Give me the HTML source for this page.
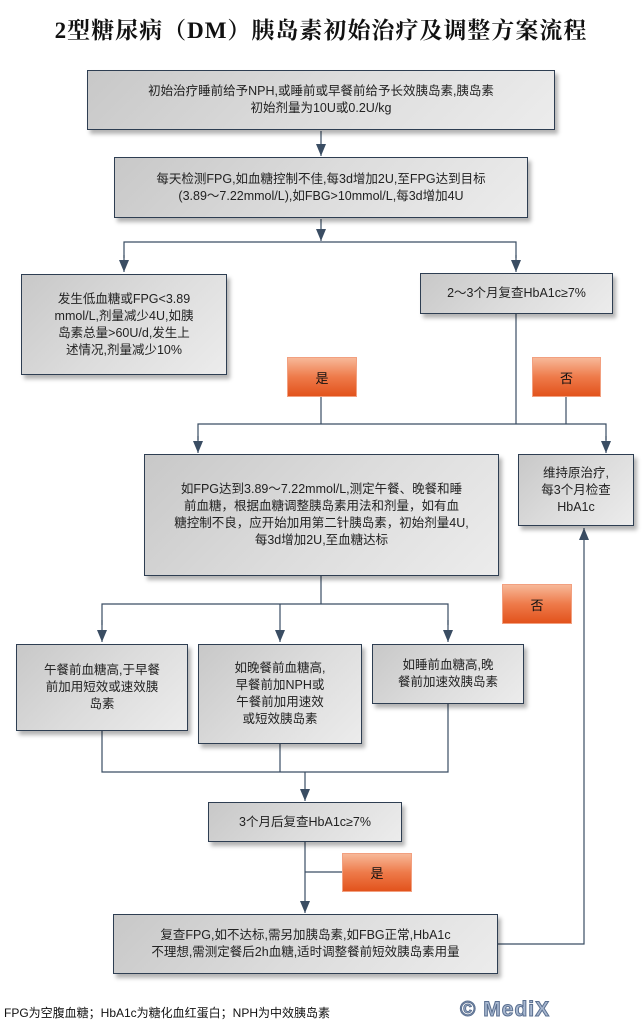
<!DOCTYPE html>
<html><head><meta charset="utf-8">
<style>
body{margin:0;width:642px;height:1033px;background:#fff;position:relative;overflow:hidden;font-family:"Liberation Sans","Noto Sans CJK SC",sans-serif;}
.t{position:absolute;left:0;width:642px;top:12px;text-align:center;font-family:"Liberation Serif","Noto Serif CJK SC",serif;font-weight:bold;font-size:23px;letter-spacing:1px;color:#111;}
.b{position:absolute;box-sizing:border-box;border:1px solid #2e3e52;background:linear-gradient(135deg,#c8c8c8 0%,#dcdcdc 50%,#ececec 100%);box-shadow:3px 4px 4px rgba(0,0,0,0.3);display:flex;align-items:center;justify-content:center;text-align:center;font-size:12.5px;line-height:17px;color:#222;padding:0 2px;white-space:nowrap;}
.o{position:absolute;box-sizing:border-box;background:linear-gradient(180deg,#f7b898 0%,#ee7a4a 50%,#e2531c 100%);border:1px solid #f2a080;display:flex;align-items:center;justify-content:center;font-size:13px;color:#111;}
svg{position:absolute;left:0;top:0;}
.f{position:absolute;left:4px;top:1004px;font-size:12px;color:#111;}
.m{position:absolute;left:460px;top:998px;font-size:21px;font-weight:bold;color:#a8b8d0;-webkit-text-stroke:1px #5a6f90;letter-spacing:1px;}
</style></head><body>
<div class="t">2型糖尿病（DM）胰岛素初始治疗及调整方案流程</div>
<svg width="642" height="1033">
<defs><marker id="a" markerWidth="10" markerHeight="12" refX="5" refY="12" markerUnits="userSpaceOnUse"><path d="M0,0 L10,0 L5,12 Z" fill="#3a4d63"/></marker>
<marker id="u" markerWidth="10" markerHeight="12" refX="5" refY="0" markerUnits="userSpaceOnUse"><path d="M0,12 L10,12 L5,0 Z" fill="#3a4d63"/></marker></defs>
<g stroke="#3a4d63" stroke-width="1.2" fill="none">
<line x1="321" y1="131" x2="321" y2="156" marker-end="url(#a)"/>
<line x1="321" y1="219" x2="321" y2="241" marker-end="url(#a)"/>
<polyline points="124,258 124,242 516,242 516,258"/>
<line x1="124" y1="255" x2="124" y2="272" marker-end="url(#a)"/>
<line x1="516" y1="255" x2="516" y2="272" marker-end="url(#a)"/>
<line x1="516" y1="314" x2="516" y2="424"/>
<line x1="321" y1="395" x2="321" y2="424"/>
<line x1="566" y1="395" x2="566" y2="424"/>
<polyline points="198,440 198,424 606,424 606,440"/>
<line x1="198" y1="436" x2="198" y2="453" marker-end="url(#a)"/>
<line x1="606" y1="436" x2="606" y2="453" marker-end="url(#a)"/>
<line x1="321" y1="576" x2="321" y2="604"/>
<polyline points="102,625 102,604 448,604 448,625"/>
<line x1="102" y1="620" x2="102" y2="642" marker-end="url(#a)"/>
<line x1="280" y1="604" x2="280" y2="642" marker-end="url(#a)"/>
<line x1="448" y1="620" x2="448" y2="642" marker-end="url(#a)"/>
<polyline points="102,731 102,772 448,772 448,704"/>
<line x1="280" y1="744" x2="280" y2="772"/>
<line x1="305" y1="772" x2="305" y2="801" marker-end="url(#a)"/>
<line x1="305" y1="842" x2="305" y2="913" marker-end="url(#a)"/>
<line x1="305" y1="872" x2="342" y2="872"/>
<polyline points="498,944 584,944 584,528" marker-end="url(#u)"/>
</g>
</svg>
<div class="b" style="left:87px;top:70px;width:468px;height:60px;">初始治疗睡前给予NPH,或睡前或早餐前给予长效胰岛素,胰岛素<br>初始剂量为10U或0.2U/kg</div>
<div class="b" style="left:114px;top:157px;width:414px;height:61px;">每天检测FPG,如血糖控制不佳,每3d增加2U,至FPG达到目标<br>(3.89～7.22mmol/L),如FBG&gt;10mmol/L,每3d增加4U</div>
<div class="b" style="left:21px;top:274px;width:206px;height:101px;">发生低血糖或FPG&lt;3.89<br>mmol/L,剂量减少4U,如胰<br>岛素总量&gt;60U/d,发生上<br>述情况,剂量减少10%</div>
<div class="b" style="left:420px;top:273px;width:193px;height:41px;">2～3个月复查HbA1c≥7%</div>
<div class="o" style="left:287px;top:357px;width:70px;height:40px;">是</div>
<div class="o" style="left:532px;top:357px;width:69px;height:40px;">否</div>
<div class="b" style="left:144px;top:454px;width:355px;height:122px;">如FPG达到3.89～7.22mmol/L,测定午餐、晚餐和睡<br>前血糖，根据血糖调整胰岛素用法和剂量，如有血<br>糖控制不良，应开始加用第二针胰岛素，初始剂量4U,<br>每3d增加2U,至血糖达标</div>
<div class="b" style="left:518px;top:454px;width:116px;height:72px;">维持原治疗,<br>每3个月检查<br>HbA1c</div>
<div class="o" style="left:502px;top:584px;width:70px;height:40px;">否</div>
<div class="b" style="left:16px;top:644px;width:172px;height:87px;">午餐前血糖高,于早餐<br>前加用短效或速效胰<br>岛素</div>
<div class="b" style="left:198px;top:644px;width:164px;height:100px;">如晚餐前血糖高,<br>早餐前加NPH或<br>午餐前加用速效<br>或短效胰岛素</div>
<div class="b" style="left:372px;top:644px;width:152px;height:60px;">如睡前血糖高,晚<br>餐前加速效胰岛素</div>
<div class="b" style="left:208px;top:802px;width:194px;height:40px;">3个月后复查HbA1c≥7%</div>
<div class="o" style="left:342px;top:853px;width:70px;height:39px;">是</div>
<div class="b" style="left:113px;top:914px;width:385px;height:60px;">复查FPG,如不达标,需另加胰岛素,如FBG正常,HbA1c<br>不理想,需测定餐后2h血糖,适时调整餐前短效胰岛素用量</div>
<div class="f">FPG为空腹血糖；HbA1c为糖化血红蛋白；NPH为中效胰岛素</div>
<div class="m">© MediX</div>
</body></html>
